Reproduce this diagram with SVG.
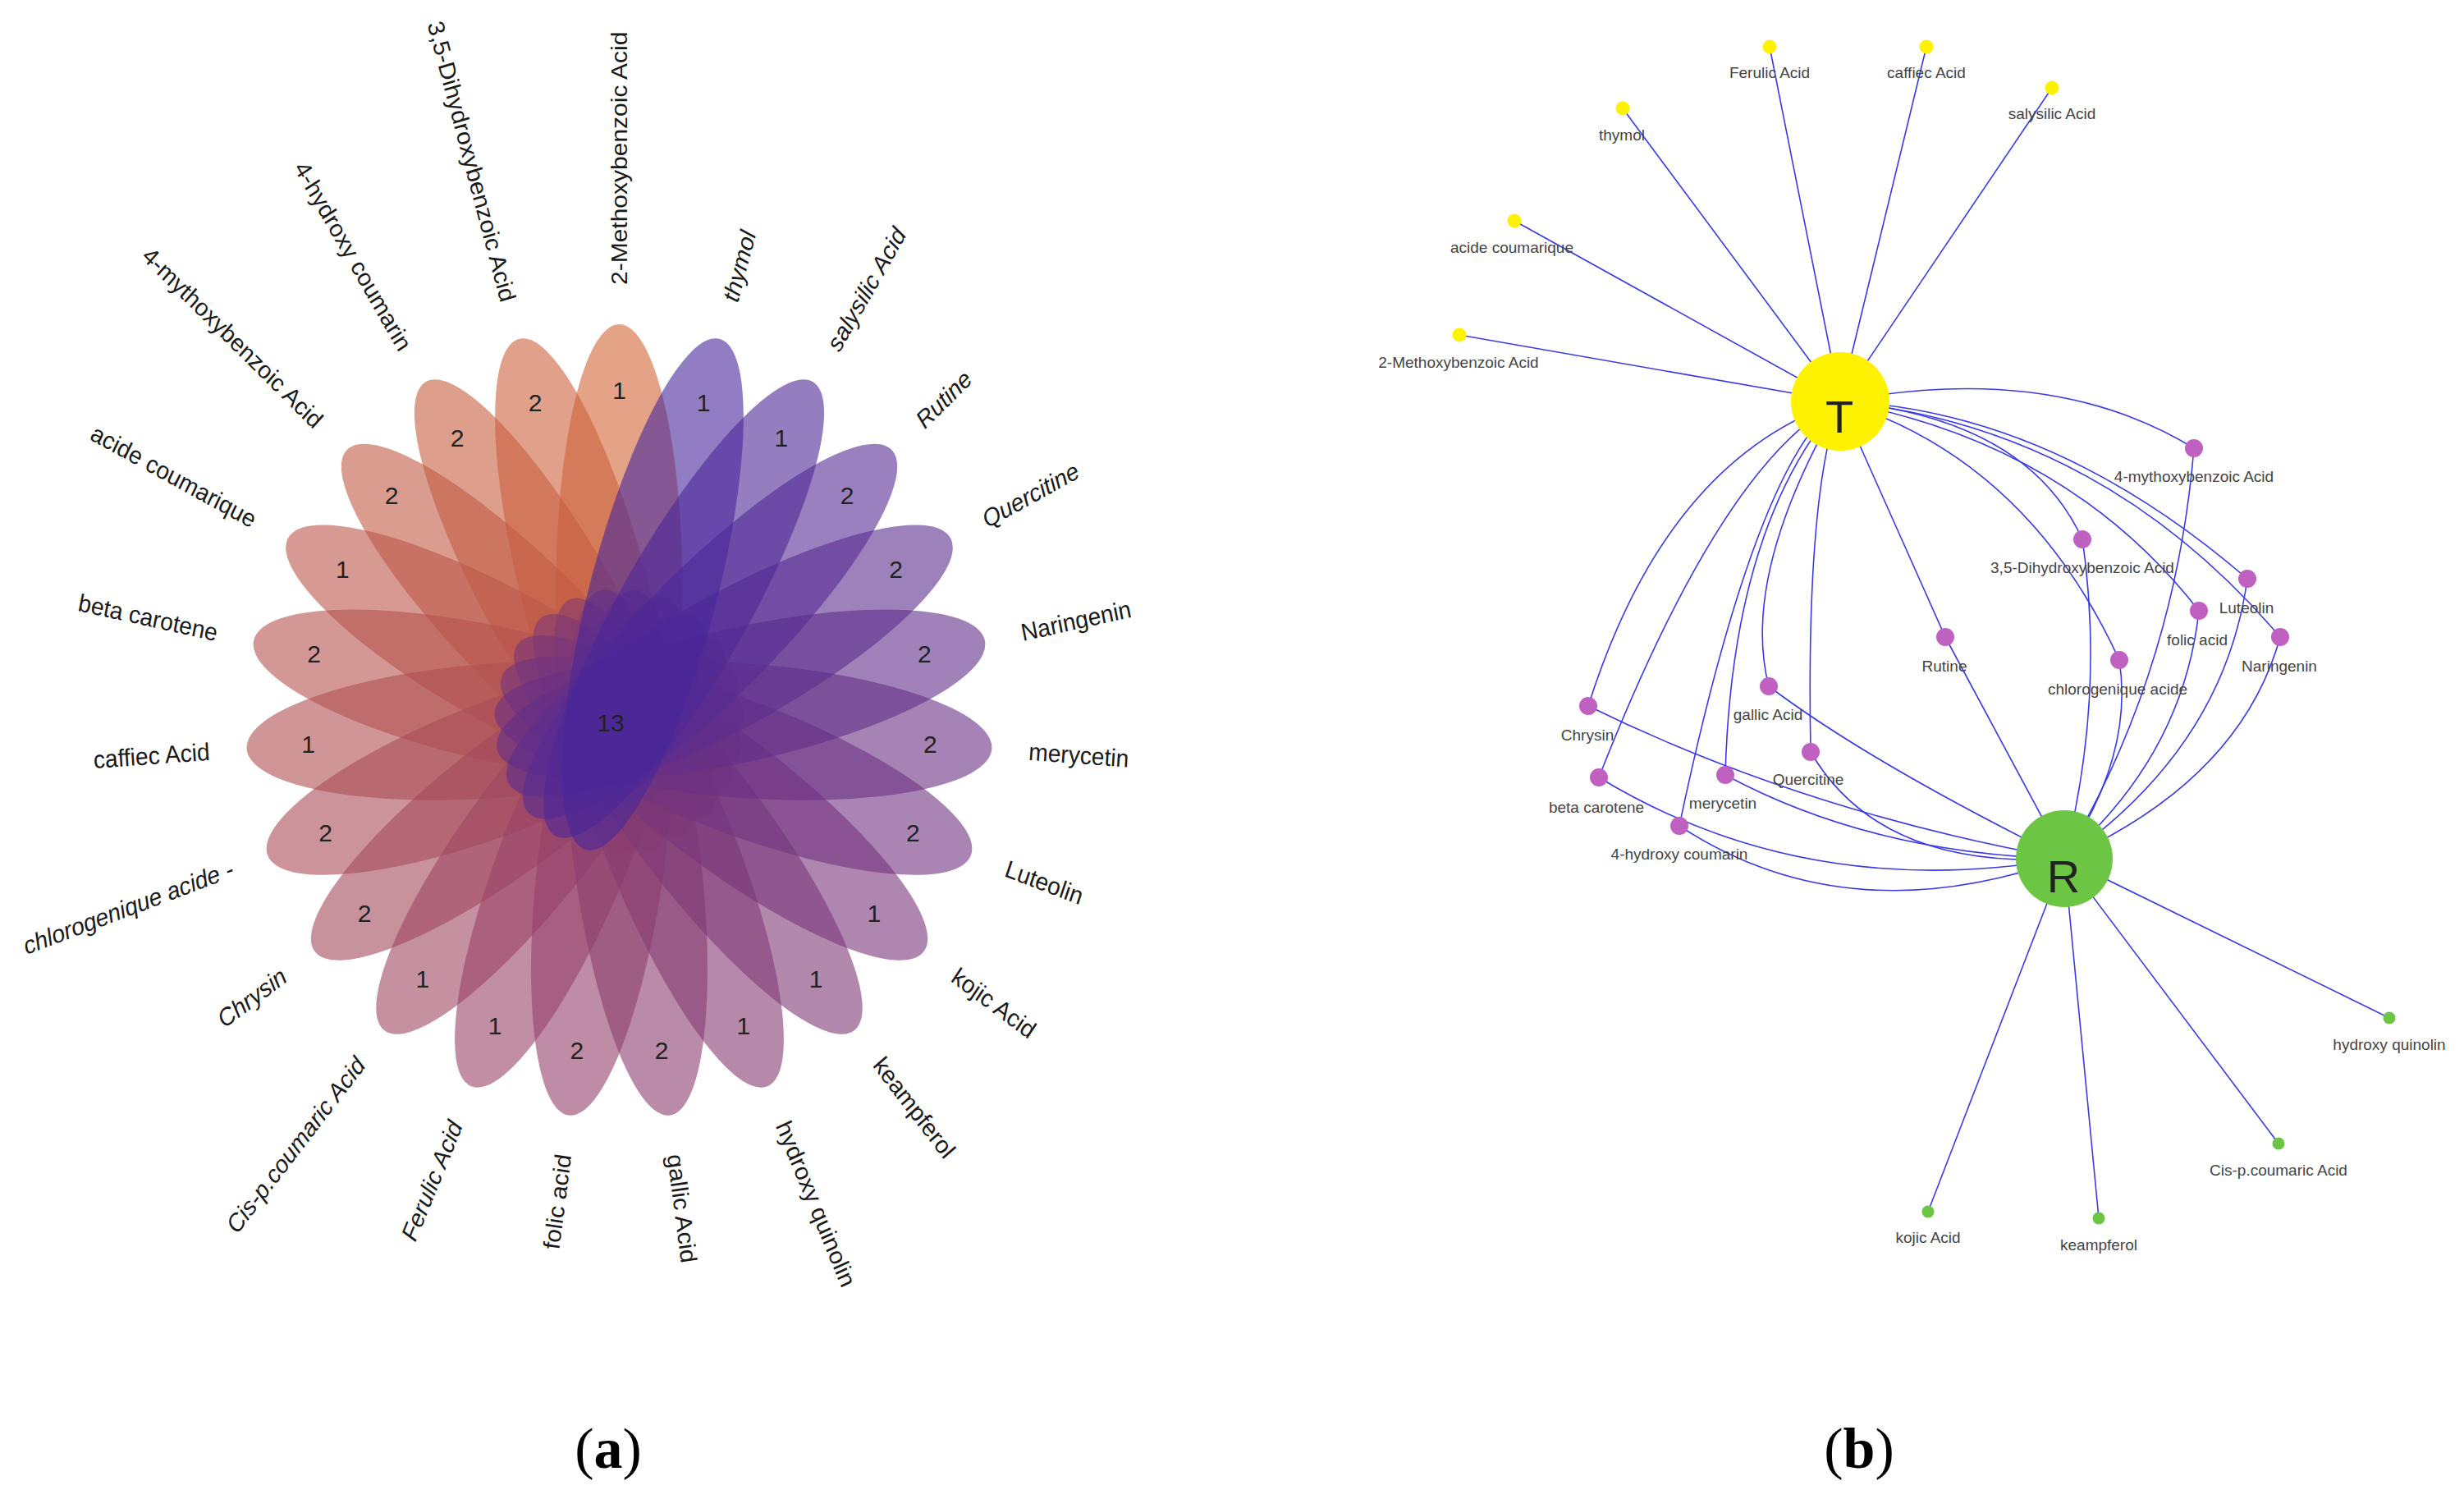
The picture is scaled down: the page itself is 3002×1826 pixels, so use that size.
<svg xmlns="http://www.w3.org/2000/svg" width="3002" height="1826" viewBox="0 0 3002 1826">
<style>
.pt{fill-opacity:0.6;stroke:none}
.fl{font-family:"Liberation Sans",Arial,sans-serif;font-size:30px;fill:#1a1a1a}
.it{font-style:italic}
.cnt{font-family:"Liberation Sans",Arial,sans-serif;font-size:30px;fill:#222;text-anchor:middle}
.edge{fill:none;stroke:#3a3ae6;stroke-width:1.6}
.nl{font-family:"Liberation Sans",Arial,sans-serif;font-size:19px;fill:#444;text-anchor:middle}
.big{font-family:"Liberation Sans",Arial,sans-serif;font-size:56px;fill:#222;text-anchor:middle}
.y{fill:#fff200}
.p{fill:#c060c0}
.g{fill:#6cc644}
.cap{font-family:"Liberation Serif","Times New Roman",serif;font-size:70px;fill:#000;text-anchor:middle}
</style>
<rect width="3002" height="1826" fill="#fff"/>

<!-- Panel (a): flower diagram -->
<g id="flower" transform="translate(754.5,879) scale(0.94,1)">
  <g id="petals">
    <ellipse id="petal-2-methoxybenzoic-acid" class="pt" cx="0" cy="-161" rx="82" ry="323" fill="#d26437" transform="rotate(0)"/>
    <ellipse id="petal-3-5-dihydroxybenzoic-acid" class="pt" cx="0" cy="-161" rx="82" ry="323" fill="#cc613c" transform="rotate(344.348)"/>
    <ellipse id="petal-4-hydroxy-coumarin" class="pt" cx="0" cy="-161" rx="82" ry="323" fill="#c75d40" transform="rotate(328.696)"/>
    <ellipse id="petal-4-mythoxybenzoic-acid" class="pt" cx="0" cy="-161" rx="82" ry="323" fill="#c15a45" transform="rotate(313.043)"/>
    <ellipse id="petal-acide-coumarique" class="pt" cx="0" cy="-161" rx="82" ry="323" fill="#bb5749" transform="rotate(297.391)"/>
    <ellipse id="petal-beta-carotene" class="pt" cx="0" cy="-161" rx="82" ry="323" fill="#b5534e" transform="rotate(281.739)"/>
    <ellipse id="petal-caffiec-acid" class="pt" cx="0" cy="-161" rx="82" ry="323" fill="#b05052" transform="rotate(266.087)"/>
    <ellipse id="petal-chlorogenique-acide" class="pt" cx="0" cy="-161" rx="82" ry="323" fill="#aa4d57" transform="rotate(250.435)"/>
    <ellipse id="petal-chrysin" class="pt" cx="0" cy="-161" rx="82" ry="323" fill="#a4495b" transform="rotate(234.783)"/>
    <ellipse id="petal-cis-p-coumaric-acid" class="pt" cx="0" cy="-161" rx="82" ry="323" fill="#9f4660" transform="rotate(219.130)"/>
    <ellipse id="petal-ferulic-acid" class="pt" cx="0" cy="-161" rx="82" ry="323" fill="#994265" transform="rotate(203.478)"/>
    <ellipse id="petal-folic-acid" class="pt" cx="0" cy="-161" rx="82" ry="323" fill="#933f69" transform="rotate(187.826)"/>
    <ellipse id="petal-gallic-acid" class="pt" cx="0" cy="-161" rx="82" ry="323" fill="#8c3d6e" transform="rotate(172.174)"/>
    <ellipse id="petal-hydroxy-quinolin" class="pt" cx="0" cy="-161" rx="82" ry="323" fill="#853a72" transform="rotate(156.522)"/>
    <ellipse id="petal-keampferol" class="pt" cx="0" cy="-161" rx="82" ry="323" fill="#7f3877" transform="rotate(140.870)"/>
    <ellipse id="petal-kojic-acid" class="pt" cx="0" cy="-161" rx="82" ry="323" fill="#78367b" transform="rotate(125.217)"/>
    <ellipse id="petal-luteolin" class="pt" cx="0" cy="-161" rx="82" ry="323" fill="#713480" transform="rotate(109.565)"/>
    <ellipse id="petal-merycetin" class="pt" cx="0" cy="-161" rx="82" ry="323" fill="#6a3184" transform="rotate(93.913)"/>
    <ellipse id="petal-naringenin" class="pt" cx="0" cy="-161" rx="82" ry="323" fill="#632f89" transform="rotate(78.261)"/>
    <ellipse id="petal-quercitine" class="pt" cx="0" cy="-161" rx="82" ry="323" fill="#5c2d8d" transform="rotate(62.609)"/>
    <ellipse id="petal-rutine" class="pt" cx="0" cy="-161" rx="82" ry="323" fill="#562b92" transform="rotate(46.957)"/>
    <ellipse id="petal-salysilic-acid" class="pt" cx="0" cy="-161" rx="82" ry="323" fill="#4f2896" transform="rotate(31.304)"/>
    <ellipse id="petal-thymol" class="pt" cx="0" cy="-161" rx="82" ry="323" fill="#48269b" transform="rotate(15.652)"/>
  </g>
  <g id="flower-labels">
    <text class="fl" text-anchor="start" dy="0.35em" transform="rotate(0) translate(0,-532) rotate(-90)">2-Methoxybenzoic Acid</text>
    <text class="fl it" text-anchor="start" dy="0.35em" transform="rotate(15.652) translate(0,-532) rotate(-90)">thymol</text>
    <text class="fl it" text-anchor="start" dy="0.35em" transform="rotate(31.304) translate(0,-532) rotate(-90)">salysilic Acid</text>
    <text class="fl it" text-anchor="start" dy="0.35em" transform="rotate(46.957) translate(0,-532) rotate(-90)">Rutine</text>
    <text class="fl it" text-anchor="start" dy="0.35em" transform="rotate(62.609) translate(0,-532) rotate(-90)">Quercitine</text>
    <text class="fl" text-anchor="start" dy="0.35em" transform="rotate(78.261) translate(0,-532) rotate(-90)">Naringenin</text>
    <text class="fl" text-anchor="start" dy="0.35em" transform="rotate(93.913) translate(0,-532) rotate(-90)">merycetin</text>
    <text class="fl" text-anchor="start" dy="0.35em" transform="rotate(109.565) translate(0,-532) rotate(-90)">Luteolin</text>
    <text class="fl" text-anchor="start" dy="0.35em" transform="rotate(125.217) translate(0,-532) rotate(-90)">kojic Acid</text>
    <text class="fl" text-anchor="start" dy="0.35em" transform="rotate(140.870) translate(0,-532) rotate(-90)">keampferol</text>
    <text class="fl" text-anchor="start" dy="0.35em" transform="rotate(156.522) translate(0,-532) rotate(-90)">hydroxy quinolin</text>
    <text class="fl" text-anchor="start" dy="0.35em" transform="rotate(172.174) translate(0,-532) rotate(-90)">gallic Acid</text>
    <text class="fl" text-anchor="end" dy="0.35em" transform="rotate(187.826) translate(0,-532) rotate(90)">folic acid</text>
    <text class="fl it" text-anchor="end" dy="0.35em" transform="rotate(203.478) translate(0,-532) rotate(90)">Ferulic Acid</text>
    <text class="fl it" text-anchor="end" dy="0.35em" transform="rotate(219.130) translate(0,-532) rotate(90)">Cis-p.coumaric Acid</text>
    <text class="fl it" text-anchor="end" dy="0.35em" transform="rotate(234.783) translate(0,-532) rotate(90)">Chrysin</text>
    <text class="fl it" text-anchor="end" dy="0.35em" transform="rotate(250.435) translate(0,-532) rotate(90)">chlorogenique acide -</text>
    <text class="fl" text-anchor="end" dy="0.35em" transform="rotate(266.087) translate(0,-532) rotate(90)">caffiec Acid</text>
    <text class="fl" text-anchor="end" dy="0.35em" transform="rotate(281.739) translate(0,-532) rotate(90)">beta carotene</text>
    <text class="fl" text-anchor="end" dy="0.35em" transform="rotate(297.391) translate(0,-532) rotate(90)">acide coumarique</text>
    <text class="fl" text-anchor="end" dy="0.35em" transform="rotate(313.043) translate(0,-532) rotate(90)">4-mythoxybenzoic Acid</text>
    <text class="fl" text-anchor="end" dy="0.35em" transform="rotate(328.696) translate(0,-532) rotate(90)">4-hydroxy coumarin</text>
    <text class="fl" text-anchor="end" dy="0.35em" transform="rotate(344.348) translate(0,-532) rotate(90)">3,5-Dihydroxybenzoic Acid</text>
  </g>
</g>
<g id="petal-counts">
  <text class="cnt" x="754.5" y="485.5">1</text>
  <text class="cnt" x="857.0" y="500.5">1</text>
  <text class="cnt" x="951.8" y="544.3">1</text>
  <text class="cnt" x="1032.0" y="613.7">2</text>
  <text class="cnt" x="1091.7" y="703.6">2</text>
  <text class="cnt" x="1126.4" y="807.3">2</text>
  <text class="cnt" x="1133.4" y="917.1">2</text>
  <text class="cnt" x="1112.4" y="1024.8">2</text>
  <text class="cnt" x="1064.8" y="1122.5">1</text>
  <text class="cnt" x="994.2" y="1202.9">1</text>
  <text class="cnt" x="905.8" y="1260.1">1</text>
  <text class="cnt" x="806.2" y="1289.7">2</text>
  <text class="cnt" x="702.8" y="1289.7">2</text>
  <text class="cnt" x="603.2" y="1260.1">1</text>
  <text class="cnt" x="514.8" y="1202.9">1</text>
  <text class="cnt" x="444.2" y="1122.5">2</text>
  <text class="cnt" x="396.6" y="1024.8">2</text>
  <text class="cnt" x="375.6" y="917.1">1</text>
  <text class="cnt" x="382.6" y="807.3">2</text>
  <text class="cnt" x="417.3" y="703.6">1</text>
  <text class="cnt" x="477.0" y="613.7">2</text>
  <text class="cnt" x="557.2" y="544.3">2</text>
  <text class="cnt" x="652.0" y="500.5">2</text>
  <text id="core-count" class="cnt" x="744" y="891">13</text>
</g>
<text id="caption-a" class="cap" x="741" y="1788">(<tspan font-weight="bold">a</tspan>)</text>

<!-- Panel (b): network -->
<g id="connectors">
  <path class="edge" d="M2242,489 L2156,57"/>
  <path class="edge" d="M2242,489 L2347,57"/>
  <path class="edge" d="M2242,489 L2500,107"/>
  <path class="edge" d="M2242,489 L1977,132"/>
  <path class="edge" d="M2242,489 L1845,269"/>
  <path class="edge" d="M2242,489 L1778,408"/>
  <path class="edge" d="M2242,489 L2370,776"/>
  <path class="edge" d="M2242,489 Q2500,440 2673,546"/>
  <path class="edge" d="M2242,489 Q2470,510 2537,657"/>
  <path class="edge" d="M2242,489 Q2500,500 2738,705"/>
  <path class="edge" d="M2242,489 Q2560,520 2778,776"/>
  <path class="edge" d="M2242,489 Q2520,540 2679,744"/>
  <path class="edge" d="M2242,489 Q2470,560 2582,804"/>
  <path class="edge" d="M2242,489 Q2030,560 1935,860"/>
  <path class="edge" d="M2242,489 Q2100,560 1948,947"/>
  <path class="edge" d="M2242,489 Q2140,560 2046,1006"/>
  <path class="edge" d="M2242,489 Q2110,640 2102,944"/>
  <path class="edge" d="M2242,489 Q2120,700 2155,836"/>
  <path class="edge" d="M2242,489 Q2200,600 2206,916"/>
  <path class="edge" d="M2515,1046 L2911,1240"/>
  <path class="edge" d="M2515,1046 L2776,1393"/>
  <path class="edge" d="M2515,1046 L2349,1476"/>
  <path class="edge" d="M2515,1046 L2557,1484"/>
  <path class="edge" d="M2370,776 L2515,1046"/>
  <path class="edge" d="M2155,836 Q2280,930 2515,1046"/>
  <path class="edge" d="M2206,916 Q2290,1060 2515,1046"/>
  <path class="edge" d="M2102,944 Q2280,1040 2515,1046"/>
  <path class="edge" d="M1935,860 Q2200,990 2515,1046"/>
  <path class="edge" d="M1948,947 Q2200,1100 2515,1046"/>
  <path class="edge" d="M2046,1006 Q2250,1140 2515,1046"/>
  <path class="edge" d="M2537,657 Q2565,850 2515,1046"/>
  <path class="edge" d="M2582,804 Q2600,920 2515,1046"/>
  <path class="edge" d="M2673,546 Q2650,820 2515,1046"/>
  <path class="edge" d="M2679,744 Q2660,920 2515,1046"/>
  <path class="edge" d="M2738,705 Q2710,910 2515,1046"/>
  <path class="edge" d="M2778,776 Q2730,950 2515,1046"/>
</g>

<g id="node-T"><circle class="y" cx="2242" cy="489" r="60"/><text class="big" x="2241" y="527">T</text></g>
<g id="node-R"><circle class="g" cx="2515" cy="1046" r="59"/><text class="big" x="2514" y="1087">R</text></g>

<g id="node-ferulic-acid"><circle class="y" cx="2156" cy="57" r="8.5"/><text class="nl" x="2156" y="95">Ferulic Acid</text></g>
<g id="node-caffiec-acid"><circle class="y" cx="2347" cy="57" r="8.5"/><text class="nl" x="2347" y="95">caffiec Acid</text></g>
<g id="node-salysilic-acid"><circle class="y" cx="2500" cy="107" r="8.5"/><text class="nl" x="2500" y="145">salysilic Acid</text></g>
<g id="node-thymol"><circle class="y" cx="1977" cy="132" r="8.5"/><text class="nl" x="1976" y="171">thymol</text></g>
<g id="node-acide-coumarique"><circle class="y" cx="1845" cy="269" r="8.5"/><text class="nl" x="1842" y="308">acide coumarique</text></g>
<g id="node-2-methoxybenzoic-acid"><circle class="y" cx="1778" cy="408" r="8.5"/><text class="nl" x="1777" y="448">2-Methoxybenzoic Acid</text></g>

<g id="node-4-mythoxybenzoic-acid"><circle class="p" cx="2673" cy="546" r="11"/><text class="nl" x="2673" y="587">4-mythoxybenzoic Acid</text></g>
<g id="node-3-5-dihydroxybenzoic-acid"><circle class="p" cx="2537" cy="657" r="11"/><text class="nl" x="2537" y="698">3,5-Dihydroxybenzoic Acid</text></g>
<g id="node-luteolin"><circle class="p" cx="2738" cy="705" r="11"/><text class="nl" x="2737" y="747">Luteolin</text></g>
<g id="node-folic-acid"><circle class="p" cx="2679" cy="744" r="11"/><text class="nl" x="2677" y="786">folic acid</text></g>
<g id="node-naringenin"><circle class="p" cx="2778" cy="776" r="11"/><text class="nl" x="2777" y="818">Naringenin</text></g>
<g id="node-chlorogenique-acide"><circle class="p" cx="2582" cy="804" r="11"/><text class="nl" x="2580" y="846">chlorogenique acide</text></g>
<g id="node-rutine"><circle class="p" cx="2370" cy="776" r="11"/><text class="nl" x="2369" y="818">Rutine</text></g>
<g id="node-gallic-acid"><circle class="p" cx="2155" cy="836" r="11"/><text class="nl" x="2154" y="877">gallic Acid</text></g>
<g id="node-chrysin"><circle class="p" cx="1935" cy="860" r="11"/><text class="nl" x="1934" y="902">Chrysin</text></g>
<g id="node-quercitine"><circle class="p" cx="2206" cy="916" r="11"/><text class="nl" x="2203" y="956">Quercitine</text></g>
<g id="node-merycetin"><circle class="p" cx="2102" cy="944" r="11"/><text class="nl" x="2099" y="985">merycetin</text></g>
<g id="node-beta-carotene"><circle class="p" cx="1948" cy="947" r="11"/><text class="nl" x="1945" y="990">beta carotene</text></g>
<g id="node-4-hydroxy-coumarin"><circle class="p" cx="2046" cy="1006" r="11"/><text class="nl" x="2046" y="1047">4-hydroxy coumarin</text></g>

<g id="node-hydroxy-quinolin"><circle class="g" cx="2911" cy="1240" r="7.5"/><text class="nl" x="2911" y="1279">hydroxy quinolin</text></g>
<g id="node-cis-p-coumaric-acid"><circle class="g" cx="2776" cy="1393" r="7.5"/><text class="nl" x="2776" y="1432">Cis-p.coumaric Acid</text></g>
<g id="node-kojic-acid"><circle class="g" cx="2349" cy="1476" r="7.5"/><text class="nl" x="2349" y="1514">kojic Acid</text></g>
<g id="node-keampferol"><circle class="g" cx="2557" cy="1484" r="7.5"/><text class="nl" x="2557" y="1523">keampferol</text></g>

<text id="caption-b" class="cap" x="2265" y="1788">(<tspan font-weight="bold">b</tspan>)</text>
</svg>
